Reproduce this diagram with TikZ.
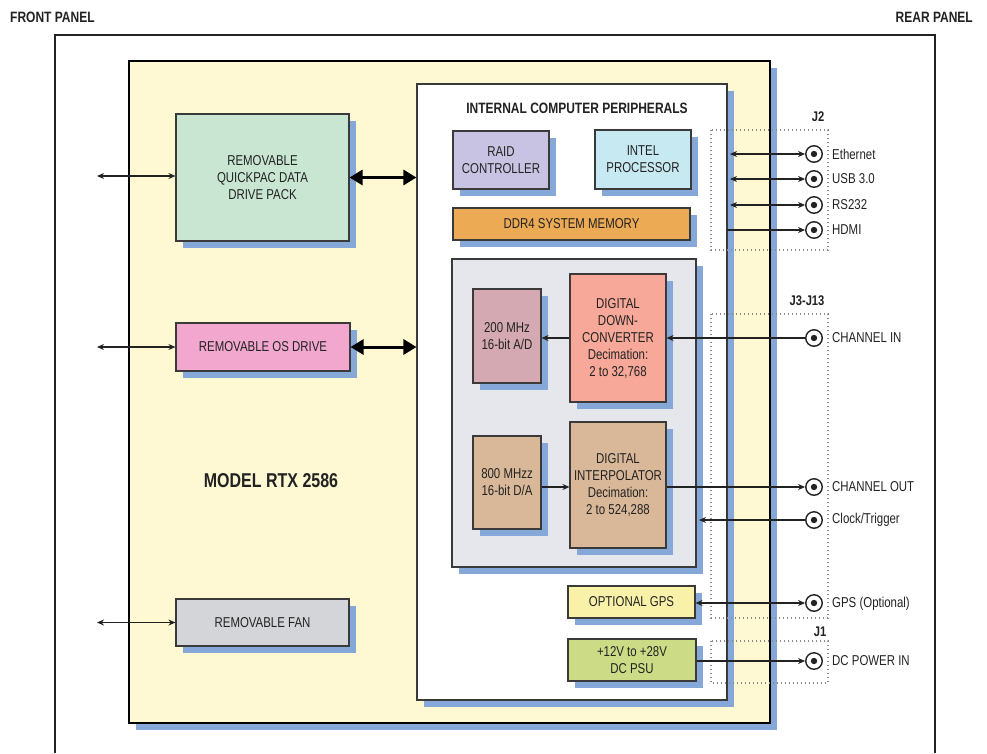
\documentclass[tikz,border=0pt]{standalone}
\usepackage{fontspec}
\setmainfont{Liberation Sans}[FakeStretch=0.8]
\usetikzlibrary{shadows,arrows.meta,calc}
\definecolor{yellowbg}{HTML}{FEF9D3}
\definecolor{shadowblue}{HTML}{86A8D8}
\definecolor{cquick}{HTML}{C9E6D3}
\definecolor{cosd}{HTML}{F2A7CF}
\definecolor{cfan}{HTML}{D3D5D8}
\definecolor{craid}{HTML}{C9C3E3}
\definecolor{cintel}{HTML}{C7E9F2}
\definecolor{cddr}{HTML}{EDAA55}
\definecolor{cgray}{HTML}{E5E7EC}
\definecolor{cad}{HTML}{D4A9B1}
\definecolor{cddc}{HTML}{F7A898}
\definecolor{ctan}{HTML}{D9B899}
\definecolor{cgps}{HTML}{FAF1A9}
\definecolor{cpsu}{HTML}{CCDC86}
\definecolor{txt}{HTML}{222222}
\definecolor{boxline}{HTML}{3A3A3A}
\definecolor{dotgray}{HTML}{8A8A8A}
\begin{document}
\begin{tikzpicture}[x=1pt,y=-1pt,
  shad/.style={drop shadow={shadow xshift=7pt, shadow yshift=-7pt, fill=shadowblue, opacity=1}},
  box/.style={draw=boxline, line width=1.1pt, inner sep=0pt, align=center, text=txt,
    font=\fontsize{14.3}{17}\selectfont, shad},
  lbl/.style={text=txt, font=\fontsize{14.3}{17}\selectfont, inner sep=0pt, anchor=west},
  bold/.style={text=txt, font=\bfseries\fontsize{14}{17}\selectfont, inner sep=0pt},
  jack/.style={circle, draw=txt, line width=1.4pt, fill=white, minimum size=16.5pt, inner sep=0pt},
  conn/.style={draw=txt, line width=1.2pt},
  tip/.tip={Stealth[length=7pt,width=6pt]},
  big/.tip={Triangle[length=13pt,width=15pt]},
  thickarrow/.style={draw=black, line width=3pt, big-big},
  dotbox/.style={draw=dotgray, line width=1.2pt, dash pattern=on 1.3pt off 2.7pt}
]
\useasboundingbox (0,0) rectangle (987,753);

% panel titles
\node[text=txt, font=\bfseries\fontsize{15}{17}\selectfont, inner sep=0pt, anchor=west] (front) at (10,17) {FRONT PANEL};
\node[text=txt, font=\bfseries\fontsize{15}{17}\selectfont, inner sep=0pt, anchor=east] (rear) at (973,17) {REAR PANEL};

% outer enclosure
\draw[draw=txt, line width=2pt] (55,753) -- (55,35) -- (935,35) -- (935,753);

% model box
\node[draw=black, line width=2pt, fill=yellowbg, minimum width=641pt, minimum height=662pt, inner sep=0pt, shad] (model) at (449.5,392) {};
\node[text=txt, font=\bfseries\fontsize{20}{24}\selectfont, inner sep=0pt] (mtitle) at (271,481) {MODEL RTX 2586};

% front-side modules
\node[box, fill=cquick, minimum width=173pt, minimum height=127pt] (quick) at (262.5,177.5) {REMOVABLE\\QUICKPAC DATA\\DRIVE PACK};
\node[box, fill=cosd, minimum width=174pt, minimum height=48pt] (osd) at (263,347) {REMOVABLE OS DRIVE};
\node[box, fill=cfan, minimum width=173pt, minimum height=47pt] (fan) at (262.5,622.5) {REMOVABLE FAN};

\coordinate (fq) at (97,176);
\coordinate (fo) at (97,347);
\coordinate (ff) at (97,622.5);
\draw[conn, tip-tip] (fq) -- (fq -| quick.west);
\draw[conn, tip-tip] (fo) -- (osd.west);
\draw[conn, tip-tip] (ff) -- (fan.west);

% internal computer box
\node[draw=boxline, line width=1.1pt, fill=white, minimum width=310pt, minimum height=616pt, inner sep=0pt, shad] (inner) at (572,392) {};
\node[text=txt, font=\bfseries\fontsize{15}{17}\selectfont, inner sep=0pt] (ititle) at (577,108) {INTERNAL COMPUTER PERIPHERALS};

\draw[thickarrow] (quick.east) -- (quick.east -| inner.west);
\draw[thickarrow] (osd.east) -- (osd.east -| inner.west);

\node[box, fill=craid, minimum width=96pt, minimum height=58pt] (raid) at (501,160) {RAID\\CONTROLLER};
\node[box, fill=cintel, minimum width=96pt, minimum height=59pt] (intel) at (643,159.5) {INTEL\\PROCESSOR};
\node[box, fill=cddr, minimum width=237pt, minimum height=32pt] (ddr) at (571.5,224) {DDR4 SYSTEM MEMORY};

\node[box, fill=cgray, minimum width=244pt, minimum height=308pt] (gray) at (574,413) {};
\node[box, fill=cad, minimum width=68pt, minimum height=94pt] (ad) at (507,336) {200 MHz\\16-bit A/D};
\node[box, fill=cddc, minimum width=96pt, minimum height=128pt] (ddc) at (618,338) {DIGITAL\\DOWN-\\CONVERTER\\Decimation:\\2 to 32,768};
\node[box, fill=ctan, minimum width=68pt, minimum height=93pt] (da) at (507,482.5) {800 MHzz\\16-bit D/A};
\node[box, fill=ctan, minimum width=96pt, minimum height=126pt] (interp) at (618,485) {DIGITAL\\INTERPOLATOR\\Decimation:\\2 to 524,288};

\node[box, fill=cgps, minimum width=127pt, minimum height=32pt] (gps) at (631.5,602) {OPTIONAL GPS};
\node[box, fill=cpsu, minimum width=128pt, minimum height=42pt] (psu) at (632,660) {+12V to +28V\\DC PSU};

% connector groups
\draw[dotbox] (711,130) rectangle (828,250);
\draw[dotbox] (711,314) rectangle (828,618);
\draw[dotbox] (711,641) rectangle (828,683);
\node[bold] (j2) at (818,117) {J2};
\node[bold] (j3) at (807,301) {J3-J13};
\node[bold] (j1) at (820,632) {J1};

% jacks
\node[jack] (je) at (814,154) {};
\node[jack] (ju) at (814,179) {};
\node[jack] (jr) at (814,205) {};
\node[jack] (jh) at (814,230) {};
\node[jack] (jci) at (814,338) {};
\node[jack] (jco) at (814,487) {};
\node[jack] (jct) at (814,520) {};
\node[jack] (jg) at (814,603) {};
\node[jack] (jdc) at (814,661) {};
\foreach \j in {je,ju,jr,jh,jci,jco,jct,jg,jdc} {\fill[txt] (\j) circle[radius=3.2];}

\node[lbl] (le) at (832,154) {Ethernet};
\node[lbl] (lu) at (832,179) {USB 3.0};
\node[lbl] (lr) at (832,205) {RS232};
\node[lbl] (lh) at (832,230) {HDMI};
\node[lbl] (lci) at (832,338) {CHANNEL IN};
\node[lbl] (lco) at (832,487) {CHANNEL OUT};
\node[lbl] (lct) at (832,520) {Clock/Trigger};
\node[lbl] (lg) at (832,604) {GPS (Optional)};
\node[lbl] (ldc) at (832,661) {DC POWER IN};

% rear connections
\coordinate (pe) at (730,154);
\coordinate (pu) at (730,179);
\coordinate (pr) at (730,205);
\coordinate (ph) at (727,230);
\draw[conn, tip-tip] (pe) -- (je);
\draw[conn, tip-tip] (pu) -- (ju);
\draw[conn, tip-tip] (pr) -- (jr);
\draw[conn, -tip] (ph) -- (jh);

\draw[conn, -tip] (jci) -- (jci -| ddc.east);
\draw[conn, -tip] (ddc.west) -- (ddc.west -| ad.east);
\draw[conn, -tip] (jco -| da.east) -- (jco -| interp.west);
\draw[conn, -tip] (jco -| interp.east) -- (jco);
\coordinate (ct) at (699,520);
\draw[conn, -tip] (jct) -- (ct);
\draw[conn, tip-tip] (jg -| gps.east) -- (jg);
\draw[conn, -tip] (jdc -| psu.east) -- (jdc);
\end{tikzpicture}
\end{document}
